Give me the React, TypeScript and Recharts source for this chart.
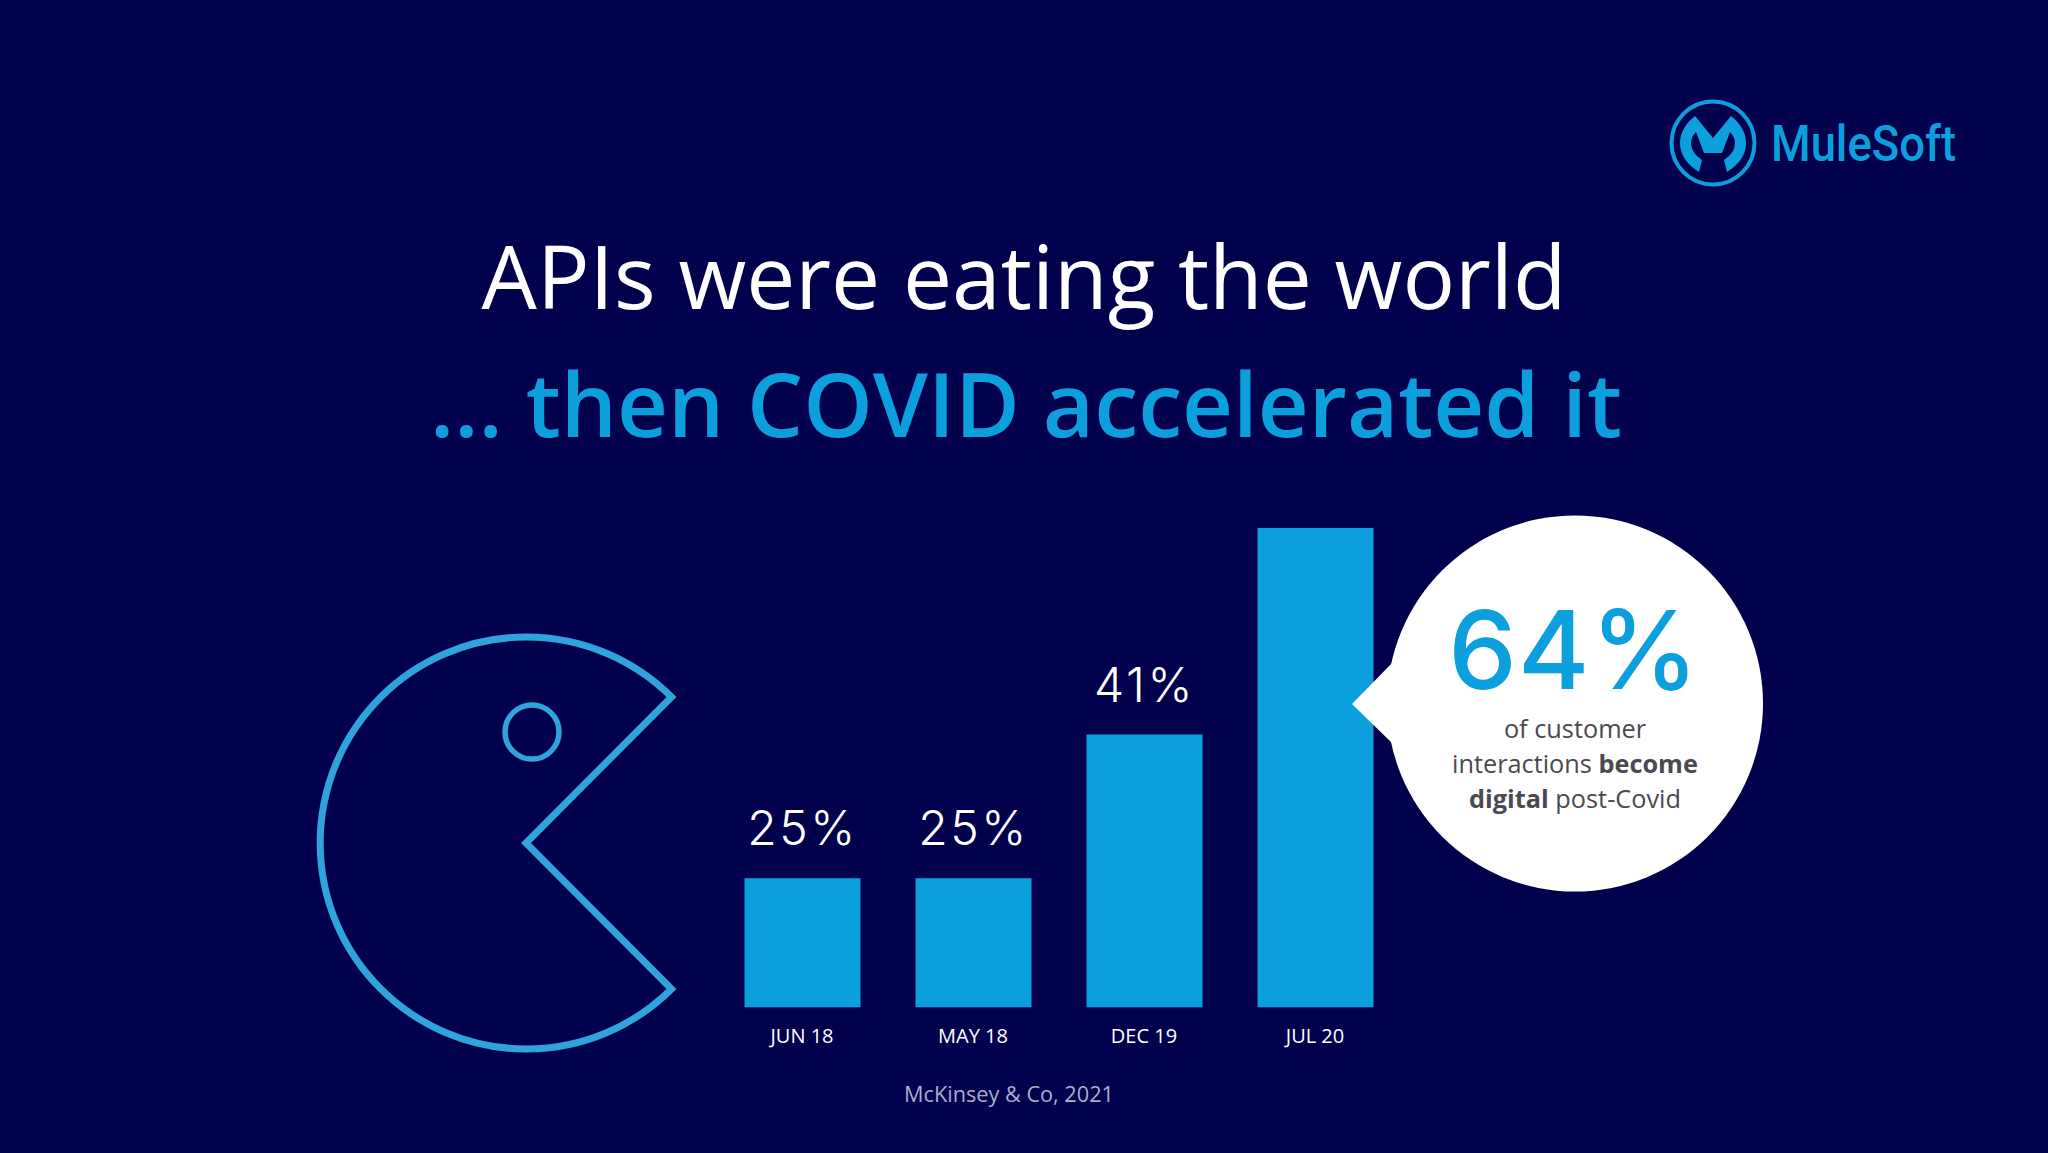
import React from "react";
import { BarChart, Bar, XAxis, YAxis, Cell, LabelList } from "recharts";

const categories = ["JUN 18", "MAY 18", "DEC 19", "JUL 20"];
const values = [25, 25, 41, 64];
const barLabels = ["25%", "25%", "41%", ""];
const rows = categories.map((name, i) => ({ name, value: values[i], label: barLabels[i] }));

const BG = "#00004c";
const BLUE = "#0c9fdd";
const FONT = "'Open Sans', sans-serif";
const NUM_FONT = "Inter, sans-serif";

export default function App() {
  return (
    <div style={{ position: "absolute", left: 0, top: 0, width: 2048, height: 1153, background: BG, overflow: "hidden" }}>
      <div style={{ position: "absolute", left: 0, top: 0 }}>
        <BarChart width={2048} height={1153} data={rows} margin={{ left: 716.5, right: 647.5, top: 528, bottom: 0 }}>
          <XAxis
            dataKey="name"
            axisLine={false}
            tickLine={false}
            height={145.5}
            interval={0}
            tick={{ fill: "#ffffff", fontFamily: FONT, fontSize: 20 }}
            tickMargin={15}
          />
          <YAxis hide domain={[10.6, 64]} allowDataOverflow />
          <Bar dataKey="value" barSize={116} isAnimationActive={false} fill={BLUE}>
            {rows.map((r) => (
              <Cell key={r.name} fill={BLUE} />
            ))}
            <LabelList dataKey="label" position="top" offset={33} fill="#ffffff" fontFamily={NUM_FONT} fontSize={48} fontWeight={300} letterSpacing={2.5} />
          </Bar>
        </BarChart>
      </div>
      <svg width={2048} height={1153} style={{ position: "absolute", left: 0, top: 0, pointerEvents: "none" }} fontFamily={FONT}>
        <text x={1024} y={309} textAnchor="middle" fill="#ffffff" fontSize={87.5} fontWeight={400}>APIs were eating the world</text>
        <text x={1026} y={437} textAnchor="middle" fill={BLUE} fontSize={88.5} fontWeight={600}>... then COVID accelerated it</text>

        <path d="M671.5 697 A206 206 0 1 0 671.5 989 L526 843 Z" fill="none" stroke="#2fa3dc" strokeWidth={7} strokeLinejoin="miter" />
        <circle cx={532} cy={732} r={27} fill="none" stroke="#2fa3dc" strokeWidth={5.5} />

        <circle cx={1575} cy={703.5} r={188} fill="#ffffff" />
        <path d="M1352 704 L1393 662 L1393 744 Z" fill="#ffffff" />
        <text x={1574} y={689} textAnchor="middle" fill={BLUE} fontFamily={NUM_FONT} fontSize={109} fontWeight={500} letterSpacing={1}>64%</text>
        <text x={1575} y={738} textAnchor="middle" fill="#4a4a50" fontSize={25.3}>of customer</text>
        <text x={1575} y={773} textAnchor="middle" fill="#4a4a50" fontSize={25.3}>interactions <tspan fontWeight={700}>become</tspan></text>
        <text x={1575} y={808} textAnchor="middle" fill="#4a4a50" fontSize={25.3}><tspan fontWeight={700}>digital</tspan> post-Covid</text>

        <text x={1009} y={1102} textAnchor="middle" fill="#a9aecb" fontSize={21.7}>McKinsey &amp; Co, 2021</text>

        <circle cx={1713} cy={143} r={41.5} fill="none" stroke={BLUE} strokeWidth={4} />
        <path d="M1695 116 L1713 138 L1731 116 Q1746 128 1746 143 Q1746 160 1727 172 L1724 160 Q1735 153 1735 143 Q1735 137 1730 132 L1722 153 L1704 153 L1696 132 Q1691 137 1691 143 Q1691 153 1702 160 L1699 172 Q1680 160 1680 143 Q1680 128 1695 116 Z" fill={BLUE} />
        <text x={1771} y={161} fill={BLUE} fontFamily="Roboto, sans-serif" fontWeight={500} fontSize={50} textLength={185} lengthAdjust="spacingAndGlyphs">MuleSoft</text>
      </svg>
    </div>
  );
}
